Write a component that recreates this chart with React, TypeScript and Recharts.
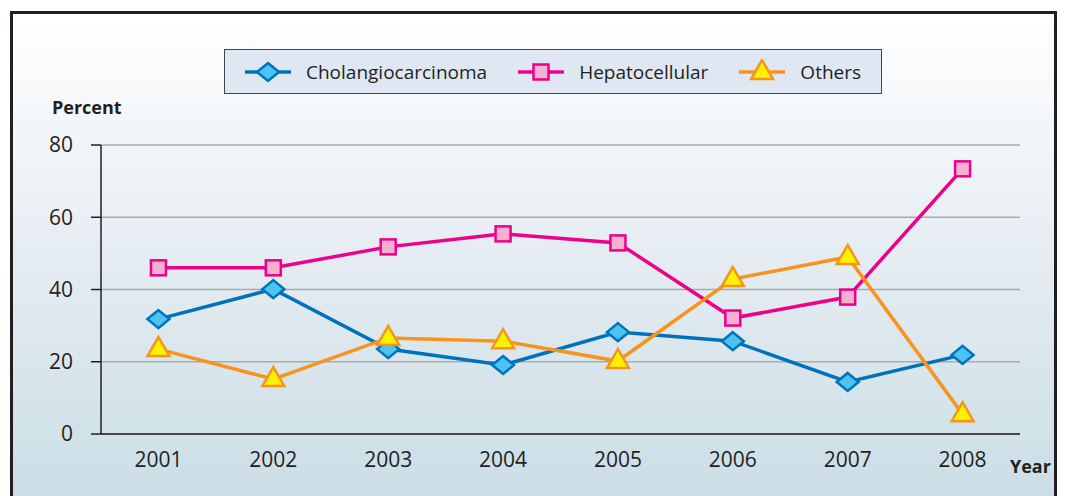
import React from 'react'
import { LineChart, Line, XAxis, YAxis, CartesianGrid } from 'recharts'

const years = [2001, 2002, 2003, 2004, 2005, 2006, 2007, 2008]
const cholangio = [31.8, 40.1, 23.5, 19.1, 28.2, 25.7, 14.4, 21.9]
const hepato = [46.0, 46.0, 51.8, 55.4, 52.9, 32.1, 37.9, 73.4]
const others = [23.5, 15.2, 26.6, 25.7, 20.2, 42.9, 49.0, 5.5]
const yTicks = [0, 20, 40, 60, 80]
const bandEdges = [2000.5, 2001.5, 2002.5, 2003.5, 2004.5, 2005.5, 2006.5, 2007.5, 2008.5]

const data = years.map((year, i) => ({
  year,
  cholangio: cholangio[i],
  hepato: hepato[i],
  others: others[i],
}))

const INK = '#231f20'
const FONT = '"Open Sans", sans-serif'

const Diamond = ({ cx, cy }: any) => (
  <polygon
    points={`${cx},${cy - 9} ${cx + 11},${cy} ${cx},${cy + 9} ${cx - 11},${cy}`}
    fill="#4cc4f2"
    stroke="#0072bc"
    strokeWidth={2.5}
  />
)

const Square = ({ cx, cy }: any) => (
  <rect x={cx - 7.5} y={cy - 7.5} width={15} height={15} fill="#f6b0d2" stroke="#ec008c" strokeWidth={2.5} />
)

const Triangle = ({ cx, cy }: any) => (
  <polygon
    points={`${cx},${cy - 12} ${cx + 11},${cy + 7} ${cx - 11},${cy + 7}`}
    fill="#fff200"
    stroke="#f7941d"
    strokeWidth={2.5}
  />
)

const series = [
  { key: 'cholangio', name: 'Cholangiocarcinoma', color: '#0072bc', Dot: Diamond },
  { key: 'hepato', name: 'Hepatocellular', color: '#ec008c', Dot: Square },
  { key: 'others', name: 'Others', color: '#f7941d', Dot: Triangle },
]

const LegendBox = () => (
  <div
    style={{
      position: 'absolute',
      left: 224,
      top: 49,
      boxSizing: 'border-box',
      width: 658,
      height: 45,
      background: '#dfe7f3',
      border: '1.5px solid #454545',
      display: 'flex',
      alignItems: 'center',
      paddingLeft: 20,
      fontFamily: FONT,
      fontSize: 19,
      color: INK,
    }}
  >
    {series.map((s) => (
      <div key={s.key} style={{ display: 'flex', alignItems: 'center', marginRight: 31 }}>
        <svg width={46} height={26}>
          <line x1={0} y1={13} x2={46} y2={13} stroke={s.color} strokeWidth={3.5} />
          <s.Dot cx={23} cy={13} />
        </svg>
        <span style={{ marginLeft: 15, whiteSpace: 'nowrap' }}>{s.name}</span>
      </div>
    ))}
  </div>
)

export default function App() {
  return (
    <div style={{ position: 'absolute', left: 0, top: 0, width: 1068, height: 496, overflow: 'hidden', background: '#fff' }}>
      <div
        style={{
          position: 'absolute',
          left: 10,
          top: 11,
          width: 1041,
          height: 520,
          borderLeft: `3px solid ${INK}`,
          borderTop: `3px solid ${INK}`,
          borderRight: `3px solid ${INK}`,
          background: 'linear-gradient(#ffffff 0%, #e6edf2 45%, #c6dce4 100%)',
        }}
      />
      <div style={{ position: 'absolute', left: 52, top: 95, fontFamily: FONT, fontWeight: 700, fontSize: 18, color: INK }}>
        Percent
      </div>
      <div style={{ position: 'absolute', left: 1010, top: 454, fontFamily: FONT, fontWeight: 700, fontSize: 18, color: INK }}>
        Year
      </div>
      <LegendBox />
      <div style={{ position: 'absolute', left: 0, top: 0 }}>
        <LineChart
          width={1068}
          height={496}
          data={data}
          margin={{ top: 145, right: 48, bottom: 12, left: 41 }}
          style={{ fontFamily: FONT }}
        >
          <CartesianGrid vertical={false} stroke="#a9abab" strokeWidth={1.5} xAxisId="years" />
          <XAxis
            xAxisId="edges"
            dataKey="year"
            type="number"
            domain={[2000.5, 2008.5]}
            ticks={bandEdges}
            interval={0}
            tick={false}
            tickSize={9}
            tickLine={{ stroke: INK, strokeWidth: 1.5 }}
            axisLine={{ stroke: INK, strokeWidth: 1.5 }}
            height={10}
            allowDataOverflow
          />
          <XAxis
            xAxisId="years"
            dataKey="year"
            type="number"
            domain={[2000.5, 2008.5]}
            ticks={years}
            interval={0}
            axisLine={false}
            tickLine={false}
            tick={{ fill: INK, fontSize: 21 }}
            tickMargin={2}
            height={40}
            allowDataOverflow
          />
          <YAxis
            domain={[0, 80]}
            ticks={yTicks}
            interval={0}
            width={60}
            tickSize={10}
            tickMargin={18}
            tick={{ fill: INK, fontSize: 21 }}
            tickLine={{ stroke: INK, strokeWidth: 1.5 }}
            axisLine={{ stroke: INK, strokeWidth: 1.5 }}
          />
          {series.map((s) => (
            <Line
              key={s.key}
              xAxisId="years"
              dataKey={s.key}
              name={s.name}
              stroke={s.color}
              strokeWidth={3.5}
              dot={(p: any) => <s.Dot key={`${s.key}-${p.index}`} cx={p.cx} cy={p.cy} />}
              activeDot={false}
              isAnimationActive={false}
            />
          ))}
        </LineChart>
      </div>
    </div>
  )
}
